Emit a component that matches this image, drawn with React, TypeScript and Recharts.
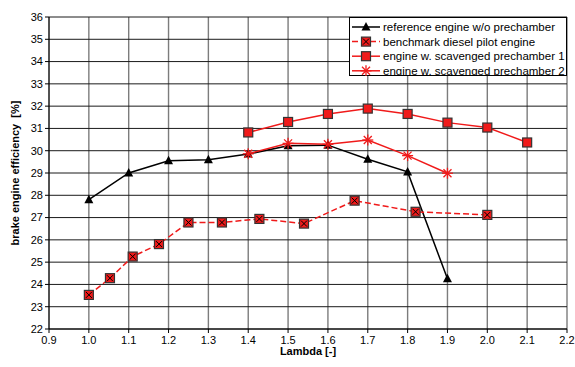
import React from 'react';
import { LineChart, Line, XAxis, YAxis, CartesianGrid, Legend } from 'recharts';

// Reference engine without prechamber
const refLambda = [1.0, 1.1, 1.2, 1.3, 1.4, 1.5, 1.6, 1.7, 1.8, 1.9];
const refEff = [27.8, 29.0, 29.55, 29.6, 29.85, 30.22, 30.25, 29.62, 29.05, 24.25];

// Benchmark diesel pilot engine
const dieselLambda = [1.0, 1.053, 1.11, 1.176, 1.25, 1.334, 1.428, 1.54, 1.667, 1.82, 2.0];
const dieselEff = [23.53, 24.28, 25.25, 25.81, 26.78, 26.78, 26.94, 26.73, 27.76, 27.26, 27.12];

// Engine with scavenged prechamber 1
const pc1Lambda = [1.4, 1.5, 1.6, 1.7, 1.8, 1.9, 2.0, 2.1];
const pc1Eff = [30.82, 31.29, 31.65, 31.89, 31.65, 31.26, 31.04, 30.37];

// Engine with scavenged prechamber 2
const pc2Lambda = [1.4, 1.5, 1.6, 1.7, 1.8, 1.9];
const pc2Eff = [29.86, 30.33, 30.29, 30.48, 29.78, 28.99];

const seriesNames = [
  'reference engine w/o prechamber',
  'benchmark diesel pilot engine',
  'engine w. scavenged prechamber 1',
  'engine w. scavenged prechamber 2',
];

const xTicks = [0.9, 1.0, 1.1, 1.2, 1.3, 1.4, 1.5, 1.6, 1.7, 1.8, 1.9, 2.0, 2.1, 2.2];
const xMinorTicks = [0.95, 1.05, 1.15, 1.25, 1.35, 1.45, 1.55, 1.65, 1.75, 1.85, 1.95, 2.05, 2.15];
const yTicks = [22, 23, 24, 25, 26, 27, 28, 29, 30, 31, 32, 33, 34, 35, 36];
const yMinorTicks = [22.5, 23.5, 24.5, 25.5, 26.5, 27.5, 28.5, 29.5, 30.5, 31.5, 32.5, 33.5, 34.5, 35.5];

const toPoints = (xs: number[], ys: number[]) => xs.map((x, i) => ({ x, y: ys[i] }));

const RED = '#f01a1a';
const FONT = '"Liberation Sans", Arial, Helvetica, sans-serif';

type MarkProps = { cx: number; cy: number };

const Triangle = ({ cx, cy }: MarkProps) => (
  <polygon
    points={`${cx},${cy - 5} ${cx - 4.5},${cy + 3.5} ${cx + 4.5},${cy + 3.5}`}
    fill="#000"
  />
);

const CrossedSquare = ({ cx, cy }: MarkProps) => (
  <g>
    <rect x={cx - 4.5} y={cy - 4.5} width={9} height={9} fill={RED} stroke="#333" strokeWidth={1.2} />
    <line x1={cx - 3} y1={cy - 3} x2={cx + 3} y2={cy + 3} stroke="#000" strokeWidth={1} />
    <line x1={cx - 3} y1={cy + 3} x2={cx + 3} y2={cy - 3} stroke="#000" strokeWidth={1} />
  </g>
);

const Square = ({ cx, cy }: MarkProps) => (
  <rect x={cx - 4.5} y={cy - 4.5} width={9} height={9} fill={RED} stroke="#333" strokeWidth={1.2} />
);

const Asterisk = ({ cx, cy }: MarkProps) => (
  <g stroke={RED} strokeWidth={1.3}>
    <line x1={cx - 5.5} y1={cy} x2={cx + 5.5} y2={cy} />
    <line x1={cx} y1={cy - 5.5} x2={cx} y2={cy + 5.5} />
    <line x1={cx - 4} y1={cy - 4} x2={cx + 4} y2={cy + 4} />
    <line x1={cx - 4} y1={cy + 4} x2={cx + 4} y2={cy - 4} />
  </g>
);

const markers = [Triangle, CrossedSquare, Square, Asterisk];
const lineColors = ['#000', RED, RED, RED];
const lineDashes = [undefined, '6 3', undefined, undefined];

const dotFor = (Mark: (p: MarkProps) => React.ReactElement) => (p: any) => (
  <Mark key={`m-${p.index}`} cx={p.cx} cy={p.cy} />
);

const LegendBox = () => (
  <svg width={219} height={59} style={{ display: 'block' }}>
    <rect x={0.5} y={0.5} width={217} height={58} fill="#fff" stroke="#000" strokeWidth={1} />
    {seriesNames.map((name, i) => {
      const cy = 10 + i * 14.6;
      const Mark = markers[i];
      return (
        <g key={name}>
          <line
            x1={3}
            y1={cy}
            x2={31}
            y2={cy}
            stroke={lineColors[i]}
            strokeWidth={1.5}
            strokeDasharray={lineDashes[i]}
          />
          <Mark cx={17} cy={cy} />
          <text x={34} y={cy + 4} fontSize={11.5} fontFamily={FONT} fill="#000">
            {name}
          </text>
        </g>
      );
    })}
  </svg>
);

export default function App() {
  const series = [
    toPoints(refLambda, refEff),
    toPoints(dieselLambda, dieselEff),
    toPoints(pc1Lambda, pc1Eff),
    toPoints(pc2Lambda, pc2Eff),
  ];
  const tickStyle = { fontSize: 11, fontFamily: FONT, fill: '#000' };

  return (
    <div style={{ position: 'absolute', left: 0, top: 0, width: 575, height: 367, background: '#fff' }}>
      <LineChart width={575} height={367} margin={{ top: 17, right: 8, bottom: 0, left: 0 }}>
        <XAxis
          xAxisId="minor"
          type="number"
          dataKey="x"
          domain={[0.9, 2.2]}
          ticks={xMinorTicks}
          tick={false}
          tickSize={3}
          axisLine={false}
          height={0}
          stroke="#000"
          allowDataOverflow
        />
        <XAxis
          xAxisId="main"
          type="number"
          dataKey="x"
          domain={[0.9, 2.2]}
          ticks={xTicks}
          interval={0}
          tickFormatter={(v: number) => v.toFixed(1)}
          tick={tickStyle}
          tickSize={4}
          tickMargin={3}
          height={38}
          stroke="#000"
          allowDataOverflow
        />
        <YAxis
          yAxisId="yminor"
          type="number"
          domain={[22, 36]}
          ticks={yMinorTicks}
          tick={false}
          tickSize={2.5}
          axisLine={false}
          width={0}
          stroke="#000"
          allowDataOverflow
        />
        <YAxis
          yAxisId="ymain"
          type="number"
          domain={[22, 36]}
          ticks={yTicks}
          interval={0}
          tick={tickStyle}
          tickSize={4}
          tickMargin={2}
          width={49}
          stroke="#000"
          allowDataOverflow
        />
        <CartesianGrid xAxisId="main" yAxisId="ymain" horizontal={false} stroke="#7c7c7c" strokeWidth={1.4} />
        <CartesianGrid xAxisId="main" yAxisId="ymain" vertical={false} stroke="#1a1a1a" strokeWidth={1} />
        {series.map((data, i) => (
          <Line
            key={seriesNames[i]}
            xAxisId="main"
            yAxisId="ymain"
            data={data}
            dataKey="y"
            name={seriesNames[i]}
            stroke={lineColors[i]}
            strokeWidth={1.5}
            strokeDasharray={lineDashes[i]}
            dot={dotFor(markers[i])}
            activeDot={false}
            isAnimationActive={false}
          />
        ))}
        <Legend
          layout="vertical"
          align="center"
          verticalAlign="middle"
          content={() => <LegendBox />}
          wrapperStyle={{ position: 'absolute', left: 349, top: 17, width: 219, height: 59 }}
        />
      </LineChart>
      <div
        style={{
          position: 'absolute',
          left: 49,
          width: 518,
          top: 345,
          textAlign: 'center',
          fontFamily: FONT,
          fontWeight: 'bold',
          fontSize: 11,
        }}
      >
        Lambda [-]
      </div>
      <div
        style={{
          position: 'absolute',
          left: 15,
          top: 173,
          transform: 'translate(-50%, -50%) rotate(-90deg)',
          whiteSpace: 'nowrap',
          fontFamily: FONT,
          fontWeight: 'bold',
          fontSize: 11,
        }}
      >
        brake engine efficiency&nbsp;&nbsp;[%]
      </div>
    </div>
  );
}
